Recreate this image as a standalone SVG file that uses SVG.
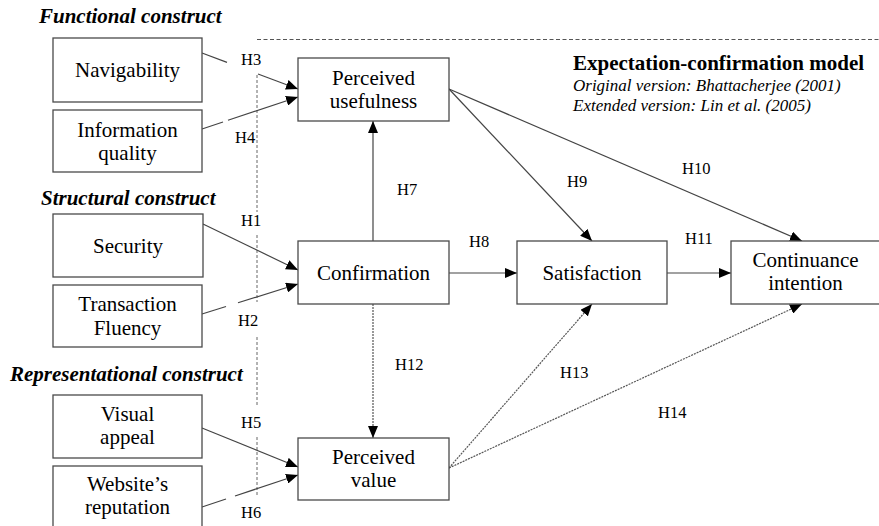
<svg xmlns="http://www.w3.org/2000/svg" width="879" height="526" viewBox="0 0 879 526">
<defs>
<marker id="arr" markerUnits="userSpaceOnUse" markerWidth="12" markerHeight="10" refX="12" refY="5" orient="auto">
<path d="M0,0 L12,5 L0,10 z" fill="#000"/>
</marker>
<style>
.box{fill:#fff;stroke:#4a4a4a;stroke-width:1.3}
.ln{stroke:#444;stroke-width:1.2;fill:none}
.dot{stroke:#555;stroke-width:1.2;fill:none;stroke-dasharray:2 1}
.frame{stroke:#555;stroke-width:1;fill:none;stroke-dasharray:4 2.5}
.vframe{stroke:#666;stroke-width:1;fill:none;stroke-dasharray:3 2}
</style>
</defs>
<rect width="879" height="526" fill="#fff"/>

<g id="frame">
<line class="frame" x1="257" y1="39.5" x2="879" y2="39.5"/>
<path class="vframe" d="M257,75 V212 M257,235 V302 M257,337 V407 M257,437 V495"/>
</g>

<g id="headings">
<text font-family="Liberation Serif" font-size="21" font-weight="bold" font-style="italic" fill="#000" x="39" y="23">Functional construct</text>
<text font-family="Liberation Serif" font-size="21" font-weight="bold" font-style="italic" fill="#000" x="41" y="205">Structural construct</text>
<text font-family="Liberation Serif" font-size="21" font-weight="bold" font-style="italic" fill="#000" x="10" y="381">Representational construct</text>
<text font-family="Liberation Serif" font-size="21" font-weight="bold" fill="#000" x="573" y="70">Expectation-confirmation model</text>
<text font-family="Liberation Serif" font-size="17" font-style="italic" fill="#000" x="573" y="91">Original version: Bhattacherjee (2001)</text>
<text font-family="Liberation Serif" font-size="17" font-style="italic" fill="#000" x="573" y="111">Extended version: Lin et al. (2005)</text>
</g>

<g id="connectors">
<path class="ln" d="M202,53 L227,62.4"/>
<path class="ln" d="M258,74 L298,89" marker-end="url(#arr)"/>
<path class="ln" d="M202,129 L223,122"/>
<path class="ln" d="M228,120.3 L298,97" marker-end="url(#arr)"/>
<path class="ln" d="M203,224 L298,270" marker-end="url(#arr)"/>
<path class="ln" d="M202,314 L226,306.5"/>
<path class="ln" d="M238,302.8 L298,284" marker-end="url(#arr)"/>
<path class="ln" d="M202,428 L298,467" marker-end="url(#arr)"/>
<path class="ln" d="M202,507 L226,499"/>
<path class="ln" d="M235,496 L298,475" marker-end="url(#arr)"/>
<path class="ln" d="M373,241 V121" marker-end="url(#arr)"/>
<path class="ln" d="M449,273 H517" marker-end="url(#arr)"/>
<path class="ln" d="M667,273 H731" marker-end="url(#arr)"/>
<path class="ln" d="M449,89 L592,241" marker-end="url(#arr)"/>
<path class="ln" d="M449,89 L802,241" marker-end="url(#arr)"/>
<path class="dot" d="M373,304 V438" marker-end="url(#arr)"/>
<path class="dot" d="M449,468 L592,304" marker-end="url(#arr)"/>
<path class="dot" d="M449,468 L802,304" marker-end="url(#arr)"/>
</g>

<g id="labels">
<text font-family="Liberation Serif" font-size="16.5" fill="#000" x="241" y="65">H3</text>
<text font-family="Liberation Serif" font-size="16.5" fill="#000" x="235" y="143">H4</text>
<text font-family="Liberation Serif" font-size="16.5" fill="#000" x="241" y="226">H1</text>
<text font-family="Liberation Serif" font-size="16.5" fill="#000" x="238" y="326">H2</text>
<text font-family="Liberation Serif" font-size="16.5" fill="#000" x="241" y="428">H5</text>
<text font-family="Liberation Serif" font-size="16.5" fill="#000" x="241" y="518">H6</text>
<text font-family="Liberation Serif" font-size="16.5" fill="#000" x="397" y="195">H7</text>
<text font-family="Liberation Serif" font-size="16.5" fill="#000" x="469" y="247">H8</text>
<text font-family="Liberation Serif" font-size="16.5" fill="#000" x="567" y="187">H9</text>
<text font-family="Liberation Serif" font-size="16.5" fill="#000" x="682" y="174">H10</text>
<text font-family="Liberation Serif" font-size="16.5" fill="#000" x="685" y="244">H11</text>
<text font-family="Liberation Serif" font-size="16.5" fill="#000" x="395" y="370">H12</text>
<text font-family="Liberation Serif" font-size="16.5" fill="#000" x="560" y="378">H13</text>
<text font-family="Liberation Serif" font-size="16.5" fill="#000" x="658" y="418">H14</text>
</g>

<g id="navigability">
<rect class="box" x="53" y="38" width="149" height="64"/>
<text font-family="Liberation Serif" font-size="21" fill="#000" text-anchor="middle" x="127.5" y="77">Navigability</text>
</g>
<g id="information-quality">
<rect class="box" x="53" y="110" width="149" height="62"/>
<text font-family="Liberation Serif" font-size="21" fill="#000" text-anchor="middle" x="127.5" y="137">Information</text>
<text font-family="Liberation Serif" font-size="21" fill="#000" text-anchor="middle" x="127.5" y="160">quality</text>
</g>
<g id="security">
<rect class="box" x="53" y="214" width="150" height="63"/>
<text font-family="Liberation Serif" font-size="21" fill="#000" text-anchor="middle" x="128" y="253">Security</text>
</g>
<g id="transaction-fluency">
<rect class="box" x="53" y="285" width="149" height="62"/>
<text font-family="Liberation Serif" font-size="21" fill="#000" text-anchor="middle" x="127.5" y="311">Transaction</text>
<text font-family="Liberation Serif" font-size="21" fill="#000" text-anchor="middle" x="127.5" y="335">Fluency</text>
</g>
<g id="visual-appeal">
<rect class="box" x="53" y="395" width="149" height="63"/>
<text font-family="Liberation Serif" font-size="21" fill="#000" text-anchor="middle" x="127.5" y="421">Visual</text>
<text font-family="Liberation Serif" font-size="21" fill="#000" text-anchor="middle" x="127.5" y="444">appeal</text>
</g>
<g id="website-reputation">
<rect class="box" x="53" y="466" width="149" height="64"/>
<text font-family="Liberation Serif" font-size="21" fill="#000" text-anchor="middle" x="127.5" y="491">Website’s</text>
<text font-family="Liberation Serif" font-size="21" fill="#000" text-anchor="middle" x="127.5" y="514">reputation</text>
</g>
<g id="perceived-usefulness">
<rect class="box" x="298" y="58" width="151" height="63"/>
<text font-family="Liberation Serif" font-size="21" fill="#000" text-anchor="middle" x="373.5" y="85">Perceived</text>
<text font-family="Liberation Serif" font-size="21" fill="#000" text-anchor="middle" x="373.5" y="108">usefulness</text>
</g>
<g id="confirmation">
<rect class="box" x="298" y="241" width="151" height="63"/>
<text font-family="Liberation Serif" font-size="21" fill="#000" text-anchor="middle" x="373.5" y="280">Confirmation</text>
</g>
<g id="perceived-value">
<rect class="box" x="298" y="438" width="151" height="62"/>
<text font-family="Liberation Serif" font-size="21" fill="#000" text-anchor="middle" x="373.5" y="464">Perceived</text>
<text font-family="Liberation Serif" font-size="21" fill="#000" text-anchor="middle" x="373.5" y="487">value</text>
</g>
<g id="satisfaction">
<rect class="box" x="517" y="241" width="150" height="63"/>
<text font-family="Liberation Serif" font-size="21" fill="#000" text-anchor="middle" x="592" y="280">Satisfaction</text>
</g>
<g id="continuance-intention">
<rect class="box" x="731" y="241" width="150" height="63"/>
<text font-family="Liberation Serif" font-size="21" fill="#000" text-anchor="middle" x="805.5" y="267">Continuance</text>
<text font-family="Liberation Serif" font-size="21" fill="#000" text-anchor="middle" x="805.5" y="290">intention</text>
</g>
</svg>
